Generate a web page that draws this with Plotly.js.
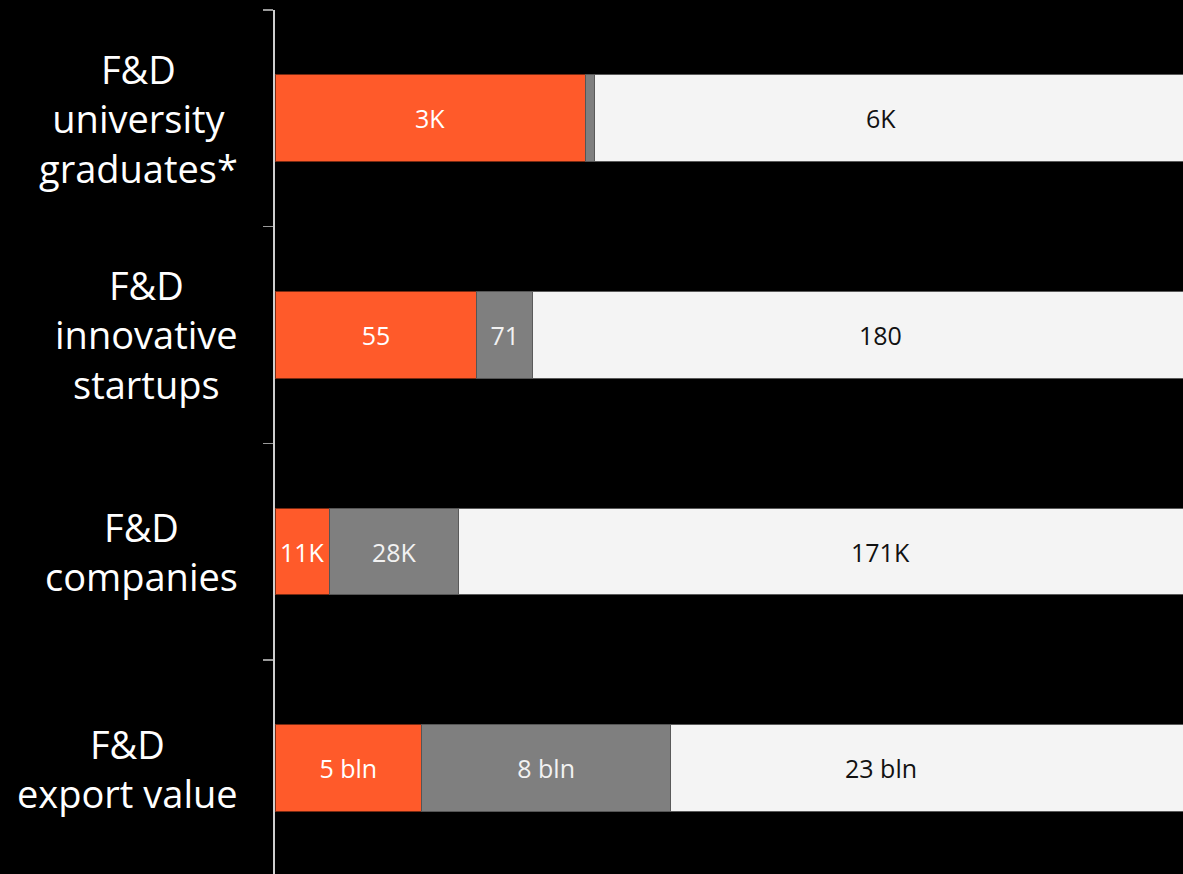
<!DOCTYPE html>
<html>
<head>
<meta charset="utf-8">
<script src="https://cdn.plot.ly/plotly-3.0.1.min.js"></script>
<style>
  html, body { margin: 0; padding: 0; background: #000; }
  #chart { width: 1183px; height: 874px; }
</style>
</head>
<body>
<div id="chart"></div>
<script>
// Categories (top to bottom) and their multi-line labels
var categories = ["grad", "startups", "companies", "export"];
var categoryLabels = [
  "F&D<br>university<br>graduates*",
  "F&D<br>innovative<br>startups",
  "F&D<br>companies",
  "F&D<br>export value"
];

// Segment shares (% of the visible bar length)
var orangeShare = [34.1, 22.2, 6.0, 16.1];
var grayShare   = [1.0, 6.1, 14.2, 27.4];
var lightShare  = [64.9, 71.7, 79.8, 56.5];

// Segment labels
var orangeLabels = ["3K", "55", "11K", "5 bln"];
var grayLabels   = ["", "71", "28K", "8 bln"];
var lightLabels  = ["6K", "180", "171K", "23 bln"];

var FONT = "'Open Sans', Lato, sans-serif";

var traces = [
  {
    type: "bar", orientation: "h", y: categories, x: orangeShare,
    text: orangeLabels, textposition: "inside", insidetextanchor: "middle",
    textangle: 0, constraintext: "none",
    textfont: {family: FONT, size: 25, color: "#ffffff"},
    marker: {color: "#ff5a2a", line: {color: "#7a2a12", width: 1}},
    hoverinfo: "skip"
  },
  {
    type: "bar", orientation: "h", y: categories, x: grayShare,
    text: grayLabels, textposition: "inside", insidetextanchor: "middle",
    textangle: 0, constraintext: "none",
    textfont: {family: FONT, size: 25, color: "#f2f2f2"},
    marker: {color: "#7f7f7f", line: {color: "#555555", width: 1}},
    hoverinfo: "skip"
  },
  {
    type: "bar", orientation: "h", y: categories, x: lightShare,
    textposition: "none",
    marker: {color: "#f4f4f4", line: {color: "#5a5a5a", width: 1}},
    hoverinfo: "skip"
  }
];

var annotations = [];
categories.forEach(function (c, i) {
  annotations.push({
    xref: "paper", yref: "y", x: -0.039, y: c,
    xanchor: "right", yanchor: "middle", align: "center",
    text: categoryLabels[i], showarrow: false,
    font: {family: FONT, size: 38, color: "#ffffff"}
  });
  annotations.push({
    xref: "x", yref: "y", x: 66.6, y: c,
    xanchor: "center", yanchor: "middle",
    text: lightLabels[i], showarrow: false,
    font: {family: FONT, size: 25, color: "#111111"}
  });
});

var layout = {
  width: 1183, height: 874,
  paper_bgcolor: "#000000", plot_bgcolor: "#000000",
  margin: {l: 275, r: 0, t: 10, b: 0, pad: 0},
  barmode: "stack", bargap: 0.6,
  showlegend: false,
  hovermode: false,
  xaxis: {
    range: [0, 99.8], visible: false, fixedrange: true
  },
  yaxis: {
    type: "category",
    categoryorder: "array", categoryarray: categories,
    range: [3.488, -0.5],
    showticklabels: false,
    tickson: "boundaries",
    ticks: "outside", ticklen: 10, tickwidth: 1.5, tickcolor: "#9a9a9a",
    showline: true, linecolor: "#cfcfcf", linewidth: 2,
    showgrid: false, zeroline: false, fixedrange: true
  },
  annotations: annotations
};

Plotly.newPlot("chart", traces, layout, {displayModeBar: false, staticPlot: true});
</script>
</body>
</html>
